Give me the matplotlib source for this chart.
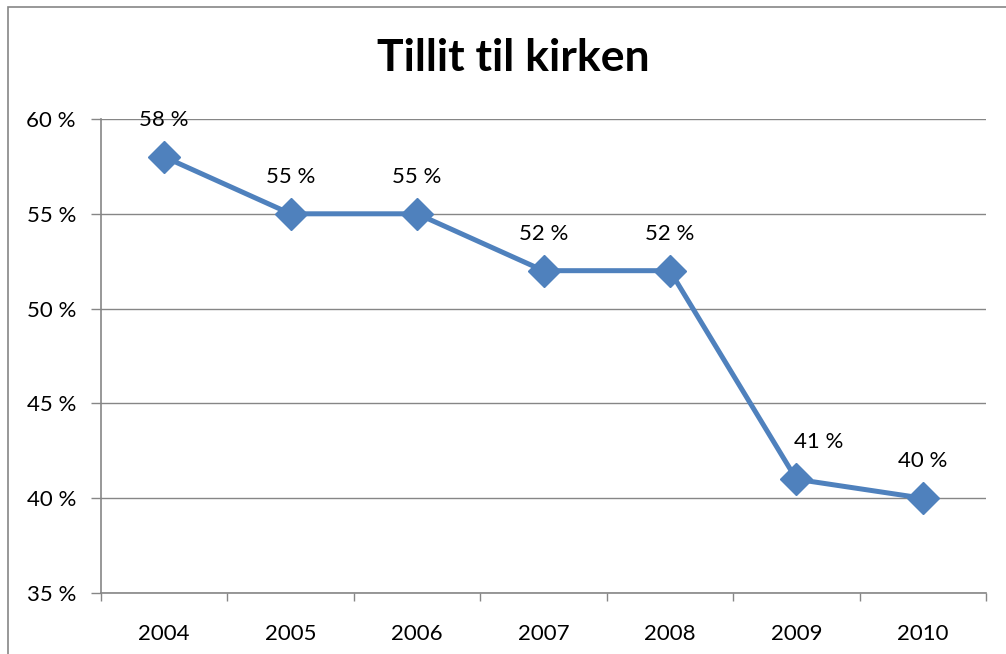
import matplotlib
matplotlib.use("Agg")
import matplotlib.pyplot as plt
from matplotlib.patches import Rectangle

plt.rcParams['font.family'] = ['Lato', 'DejaVu Sans']

# data
years = ['2004', '2005', '2006', '2007', '2008', '2009', '2010']
trust = [58, 55, 55, 52, 52, 41, 40]
title = 'Tillit til kirken'

BLUE = '#4F81BD'
GRID = '#868686'

fig = plt.figure(figsize=(10.06, 6.54), dpi=100)
ax = fig.add_axes([101 / 1006, 1 - 593 / 654, 885 / 1006, 474 / 654])

x = list(range(len(years)))
ax.plot(x, trust, color=BLUE, lw=3.6, marker='D', markersize=16,
        markeredgecolor=BLUE, markerfacecolor=BLUE, zorder=3)

for i, v in enumerate(trust):
    dx = 22 if i == 5 else 0
    ax.annotate(f'{v} %', (i, v), xytext=(dx, 37), textcoords='offset pixels',
                ha='center', va='center', fontsize=16, color='black')

ax.set_xlim(-0.5, len(years) - 0.5)
ax.set_ylim(35, 60)
ax.set_yticks(range(35, 61, 5))
ax.set_yticklabels([f'{t} %' for t in range(35, 61, 5)], fontsize=16)
ax.yaxis.grid(True, color=GRID, lw=1)
ax.set_axisbelow(True)

ax.set_xticks([i - 0.5 for i in range(len(years) + 1)])
ax.set_xticklabels([])
ax.set_xticks(x, minor=True)
ax.set_xticklabels(years, minor=True, fontsize=16)
ax.tick_params(axis='x', which='minor', length=0, pad=22)
ax.tick_params(axis='x', which='major', length=6, color=GRID, width=1)
ax.tick_params(axis='y', length=7, color=GRID, width=1, pad=11)

for s in ['top', 'right']:
    ax.spines[s].set_visible(False)
for s in ['left', 'bottom']:
    ax.spines[s].set_color(GRID)
    ax.spines[s].set_linewidth(1.2)

fig.text(513 / 1006, 1 - 58 / 654, title, ha='center', va='center',
         fontsize=32, fontweight='bold')

fig.patches.append(Rectangle((8 / 1006, -0.1), 1.2, 1.1 - 7 / 654,
                             transform=fig.transFigure, fill=False,
                             edgecolor=GRID, lw=1.2))

fig.savefig('out.png', dpi=100)
